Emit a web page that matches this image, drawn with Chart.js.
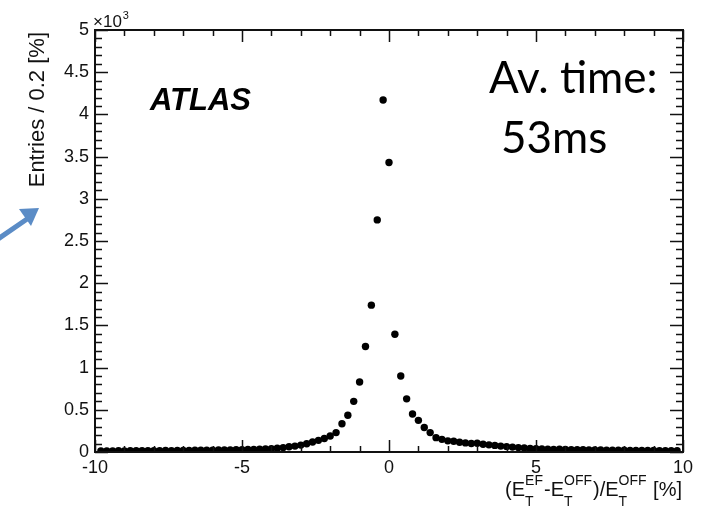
<!DOCTYPE html>
<html>
<head>
<meta charset="utf-8">
<script src="https://cdn.jsdelivr.net/npm/chart.js@4.4.1/dist/chart.umd.min.js"></script>
<style>
  html, body { margin: 0; padding: 0; background: #fff; }
  #wrap { width: 705px; height: 508px; }
</style>
</head>
<body>
<div id="wrap"><canvas id="resChart" width="705" height="508"></canvas></div>
<script>
// bin centres, % (bin width 0.2)
const binCenters = [
    -9.8, -9.6, -9.4, -9.2, -9.0, -8.8, -8.6, -8.4, -8.2, -8.0,
    -7.8, -7.6, -7.4, -7.2, -7.0, -6.8, -6.6, -6.4, -6.2, -6.0,
    -5.8, -5.6, -5.4, -5.2, -5.0, -4.8, -4.6, -4.4, -4.2, -4.0,
    -3.8, -3.6, -3.4, -3.2, -3.0, -2.8, -2.6, -2.4, -2.2, -2.0,
    -1.8, -1.6, -1.4, -1.2, -1.0, -0.8, -0.6, -0.4, -0.2, 0.0,
    0.2, 0.4, 0.6, 0.8, 1.0, 1.2, 1.4, 1.6, 1.8, 2.0,
    2.2, 2.4, 2.6, 2.8, 3.0, 3.2, 3.4, 3.6, 3.8, 4.0,
    4.2, 4.4, 4.6, 4.8, 5.0, 5.2, 5.4, 5.6, 5.8, 6.0,
    6.2, 6.4, 6.6, 6.8, 7.0, 7.2, 7.4, 7.6, 7.8, 8.0,
    8.2, 8.4, 8.6, 8.8, 9.0, 9.2, 9.4, 9.6, 9.8
];

// entries per bin
const entries = [
    12, 13, 12, 14, 13, 15, 14, 15, 16, 15,
    16, 17, 16, 18, 18, 19, 20, 20, 21, 22,
    23, 24, 25, 26, 28, 29, 31, 33, 36, 40,
    45, 52, 62, 70, 82, 98, 118, 138, 160, 190,
    230, 335, 435, 600, 830, 1250, 1740, 2750, 4170, 3430,
    1395, 900, 630, 450, 375, 290, 230, 170, 150, 132,
    128, 115, 108, 100, 104, 92, 85, 78, 70, 64,
    58, 52, 47, 42, 39, 36, 33, 31, 34, 29,
    28, 27, 26, 25, 24, 23, 22, 22, 21, 20,
    19, 19, 18, 18, 17, 16, 16, 15, 14
];

const xTickValues = [-10, -5, 0, 5, 10];
const yTickValues = [0, 500, 1000, 1500, 2000, 2500, 3000, 3500, 4000, 4500, 5000];

const AXIS_FONT = '"Liberation Sans", Arial, sans-serif';
const INK = '#111';

// ROOT-style frame with inward ticks on all four sides
const framePlugin = {
    id: 'frame',
    afterDatasetsDraw(chart) {
        const { ctx, chartArea: a, scales } = chart;
        const xs = scales.x, ys = scales.y;
        ctx.save();
        ctx.strokeStyle = INK;
        ctx.lineWidth = 1.5;
        ctx.beginPath();
        // x ticks: major every 5, minor every 1
        for (let v = -10; v <= 10; v += 1) {
            const px = Math.round(xs.getPixelForValue(v)) + 0.5;
            const len = (v % 5 === 0) ? 12 : 6;
            ctx.moveTo(px, a.bottom); ctx.lineTo(px, a.bottom - len);
            ctx.moveTo(px, a.top); ctx.lineTo(px, a.top + len);
        }
        // y ticks: major every 500, minor every 100
        for (let v = 0; v <= 5000; v += 100) {
            const py = Math.round(ys.getPixelForValue(v)) + 0.5;
            const len = (v % 500 === 0) ? 13 : 7;
            ctx.moveTo(a.left, py); ctx.lineTo(a.left + len, py);
            ctx.moveTo(a.right, py); ctx.lineTo(a.right - len, py);
        }
        ctx.stroke();
        ctx.lineWidth = 2;
        ctx.strokeRect(a.left, a.top, a.right - a.left, a.bottom - a.top);
        ctx.restore();
    }
};

// titles, annotations and the arrow
const textPlugin = {
    id: 'texts',
    afterDraw(chart) {
        const { ctx, chartArea: a } = chart;
        ctx.save();
        ctx.fillStyle = INK;

        // y title, aligned to top end
        ctx.save();
        ctx.translate(44, a.top + 2);
        ctx.rotate(-Math.PI / 2);
        ctx.font = '22px ' + AXIS_FONT;
        ctx.textAlign = 'right';
        ctx.textBaseline = 'alphabetic';
        ctx.fillText('Entries / 0.2 [%]', 0, 0);
        ctx.restore();

        // x10^3 multiplier
        ctx.font = '17px ' + AXIS_FONT;
        ctx.textAlign = 'left';
        ctx.fillText('\u00d710', a.left - 2, 27);
        const w10 = ctx.measureText('\u00d710').width;
        ctx.font = '11px ' + AXIS_FONT;
        ctx.fillText('3', a.left - 1 + w10, 19);

        // x title with sub/superscripts, right aligned
        const parts = [
            ['(E', null, null], ['', 'EF', 'T'], ['-E', null, null], ['', 'OFF', 'T'],
            [')/E', null, null], ['', 'OFF', 'T'], [' [%]', null, null]
        ];
        const mainF = '20px ' + AXIS_FONT, smallF = '14px ' + AXIS_FONT;
        let total = 0;
        parts.forEach(p => {
            if (p[1] === null) { ctx.font = mainF; total += ctx.measureText(p[0]).width; }
            else { ctx.font = smallF; total += Math.max(ctx.measureText(p[1]).width, ctx.measureText(p[2]).width) + 1; }
        });
        let cx = a.right - 1 - total;
        const base = 496;
        parts.forEach(p => {
            if (p[1] === null) {
                ctx.font = mainF; ctx.fillText(p[0], cx, base);
                cx += ctx.measureText(p[0]).width;
            } else {
                ctx.font = smallF;
                ctx.fillText(p[1], cx, base - 11);
                ctx.fillText(p[2], cx, base + 10);
                cx += Math.max(ctx.measureText(p[1]).width, ctx.measureText(p[2]).width) + 1;
            }
        });

        // ATLAS label
        ctx.font = 'italic bold 31px ' + AXIS_FONT;
        ctx.fillStyle = '#000';
        ctx.fillText('ATLAS', 150, 110);

        // timing note
        ctx.font = '44px Lato, "Open Sans", sans-serif';
        ctx.fillText('Av. time:', 489, 93);
        ctx.fillText('53ms', 501, 153);

        // blue arrow pointing at y title
        ctx.strokeStyle = '#5b8cc6';
        ctx.fillStyle = '#5b8cc6';
        ctx.lineWidth = 5;
        ctx.lineCap = 'round';
        ctx.beginPath();
        ctx.moveTo(-2, 239);
        ctx.lineTo(30, 217);
        ctx.stroke();
        ctx.beginPath();
        ctx.moveTo(39, 208);
        ctx.lineTo(19, 209);
        ctx.lineTo(31, 226);
        ctx.closePath();
        ctx.fill();
        ctx.restore();
    }
};

const points = binCenters.map((x, i) => ({ x: x, y: entries[i] }));

new Chart(document.getElementById('resChart'), {
    type: 'scatter',
    data: {
        datasets: [{
            label: 'EF vs offline',
            data: points,
            backgroundColor: '#000',
            borderColor: '#000',
            pointRadius: 3.7,
            pointHoverRadius: 3.7,
            borderWidth: 0
        }]
    },
    options: {
        responsive: false,
        animation: false,
        events: [],
        layout: { padding: { left: 0, right: 22, top: 30, bottom: 0 } },
        plugins: {
            legend: { display: false },
            tooltip: { enabled: false }
        },
        scales: {
            x: {
                type: 'linear',
                min: -10,
                max: 10,
                afterBuildTicks: s => { s.ticks = xTickValues.map(v => ({ value: v })); },
                afterFit: s => { s.height = 56; },
                grid: { drawOnChartArea: false, drawTicks: false },
                border: { display: false },
                ticks: {
                    padding: 5,
                    color: INK,
                    maxRotation: 0,
                    font: { family: AXIS_FONT, size: 18 },
                    callback: v => String(v)
                }
            },
            y: {
                type: 'linear',
                min: 0,
                max: 5000,
                afterBuildTicks: s => { s.ticks = yTickValues.map(v => ({ value: v })); },
                afterFit: s => { s.width = 95; },
                grid: { drawOnChartArea: false, drawTicks: false },
                border: { display: false },
                ticks: {
                    padding: 6,
                    color: INK,
                    font: { family: AXIS_FONT, size: 18 },
                    callback: v => String(v / 1000)
                }
            }
        }
    },
    plugins: [framePlugin, textPlugin]
});
</script>
</body>
</html>
